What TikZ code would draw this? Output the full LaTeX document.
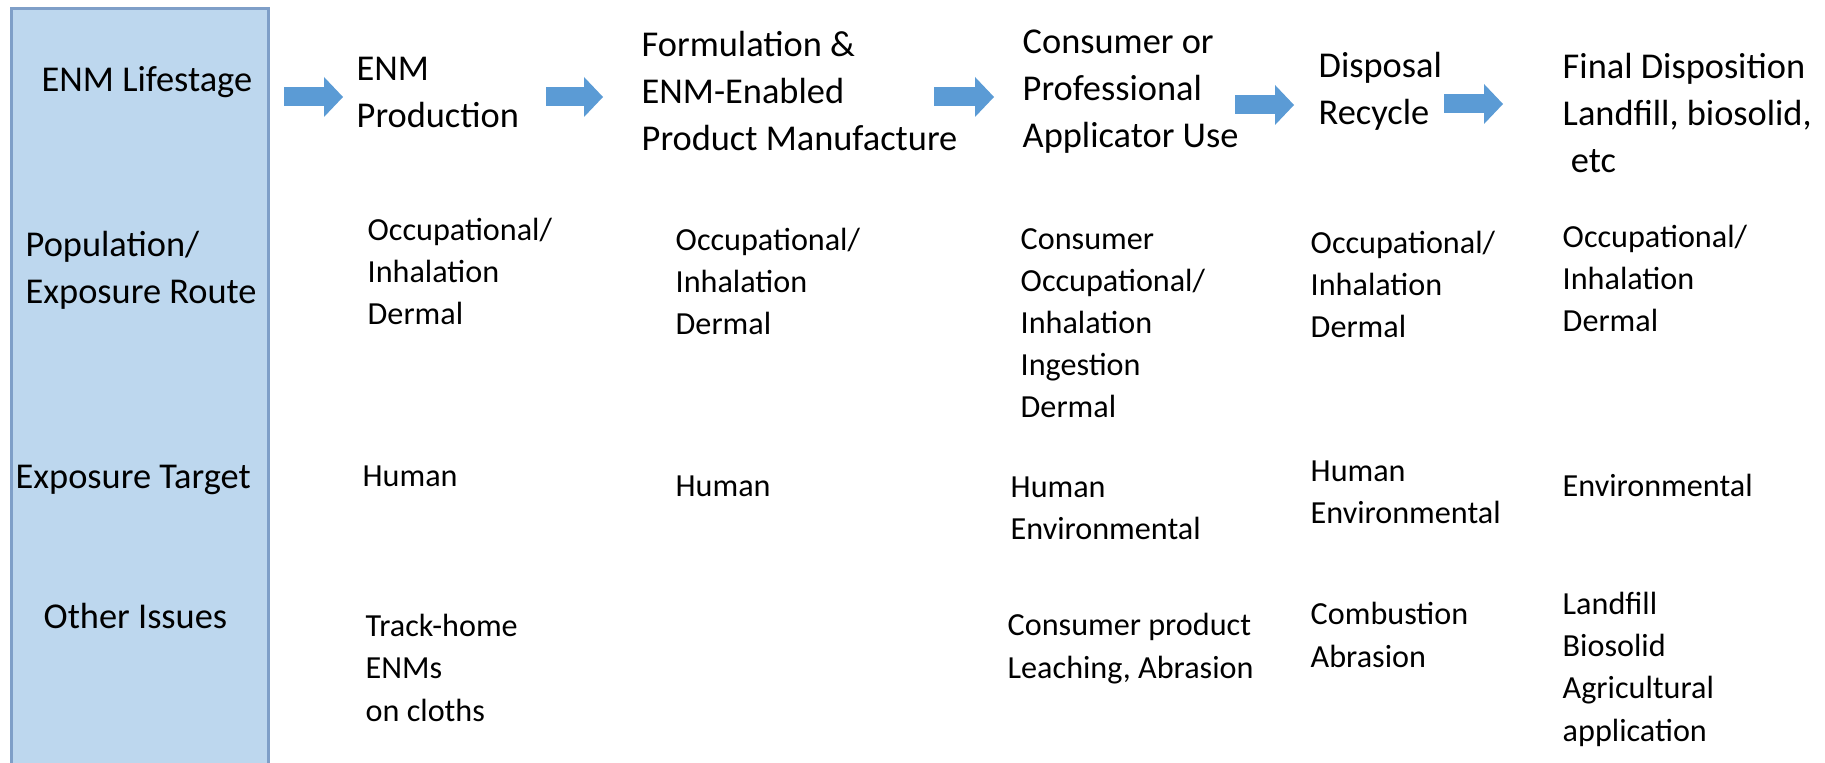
\documentclass[tikz,border=0pt]{standalone}
\usepackage{fontspec}
\setmainfont{Carlito}
\usetikzlibrary{arrows.meta}
\definecolor{stagefill}{HTML}{BDD7EE}
\definecolor{stageline}{HTML}{7F9FC8}
\definecolor{flowblue}{HTML}{5B9BD5}
\tikzset{
	head/.style={black, anchor=base west, inner sep=0pt, align=left, font=\fontsize{10.35}{13.5}\selectfont},
	cell/.style={black, anchor=base west, inner sep=0pt, align=left, font=\fontsize{9.15}{12}\selectfont},
	flow/.style={draw=flowblue, line width=0.19cm, -{Triangle[length=0.19cm, width=0.40cm, line width=0pt, fill=flowblue]}},
}
\begin{document}
\begin{tikzpicture}
	\useasboundingbox (0,0) rectangle (18.25,-7.63);
	\fill[stagefill] (0.115,-0.09) rectangle (2.685,-7.63);
	\draw[stageline, line width=0.03cm] (0.115,-7.63) -- (0.115,-0.09) -- (2.685,-0.09) -- (2.685,-7.63);
	% multi-line nodes sit on the baseline of their last line
	\node[head] (life) at (0.41,-0.92) {ENM Lifestage};
	\node[head] (pop) at (0.25,-3.04) {Population/\\Exposure Route};
	\node[head] (target) at (0.15,-4.89) {Exposure Target};
	\node[head] (other) at (0.43,-6.29) {Other Issues};
	\node[head] (prod) at (3.56,-1.28) {ENM\\Production};
	\node[head] (form) at (6.41,-1.51) {Formulation \&\\ENM-Enabled\\Product Manufacture};
	\node[head] (use) at (10.22,-1.48) {Consumer or\\Professional\\Applicator Use};
	\node[head] (disp) at (13.18,-1.25) {Disposal\\Recycle};
	\node[head] (final) at (15.62,-1.73) {Final Disposition\\Landfill, biosolid,\\\ etc};
	\coordinate (f1a) at (2.84,-0.97);
	\coordinate (f1b) at (3.43,-0.97);
	\coordinate (f2a) at (5.46,-0.97);
	\coordinate (f2b) at (6.03,-0.97);
	\coordinate (f3a) at (9.34,-0.97);
	\coordinate (f3b) at (9.94,-0.97);
	\coordinate (f4a) at (12.35,-1.05);
	\coordinate (f4b) at (12.94,-1.05);
	\coordinate (f5a) at (14.44,-1.04);
	\coordinate (f5b) at (15.03,-1.04);
	\draw[flow] (f1a) -- (f1b);
	\draw[flow] (f2a) -- (f2b);
	\draw[flow] (f3a) -- (f3b);
	\draw[flow] (f4a) -- (f4b);
	\draw[flow] (f5a) -- (f5b);
	\node[cell] (prodroute) at (3.67,-3.25) {Occupational/\\Inhalation\\Dermal};
	\node[cell] (formroute) at (6.75,-3.35) {Occupational/\\Inhalation\\Dermal};
	\node[cell] (useroute) at (10.20,-4.18) {Consumer\\Occupational/\\Inhalation\\Ingestion\\Dermal};
	\node[cell] (disproute) at (13.10,-3.38) {Occupational/\\Inhalation\\Dermal};
	\node[cell] (finalroute) at (15.62,-3.32) {Occupational/\\Inhalation\\Dermal};
	\node[cell] (prodtarget) at (3.62,-4.87) {Human};
	\node[cell] (formtarget) at (6.75,-4.97) {Human};
	\node[cell] (usetarget) at (10.10,-5.40) {Human\\Environmental};
	\node[cell] (disptarget) at (13.10,-5.24) {Human\\Environmental};
	\node[cell] (finaltarget) at (15.62,-4.97) {Environmental};
	\node[cell] (prodissue) at (3.65,-7.21) {Track-home\\ENMs\\on cloths};
	\node[cell] (useissue) at (10.07,-6.78) {Consumer product\\Leaching, Abrasion};
	\node[cell] (dispissue) at (13.10,-6.67) {Combustion\\Abrasion};
	\node[cell] (finalissue) at (15.62,-7.41) {Landfill\\Biosolid\\Agricultural\\application};
\end{tikzpicture}
\end{document}
